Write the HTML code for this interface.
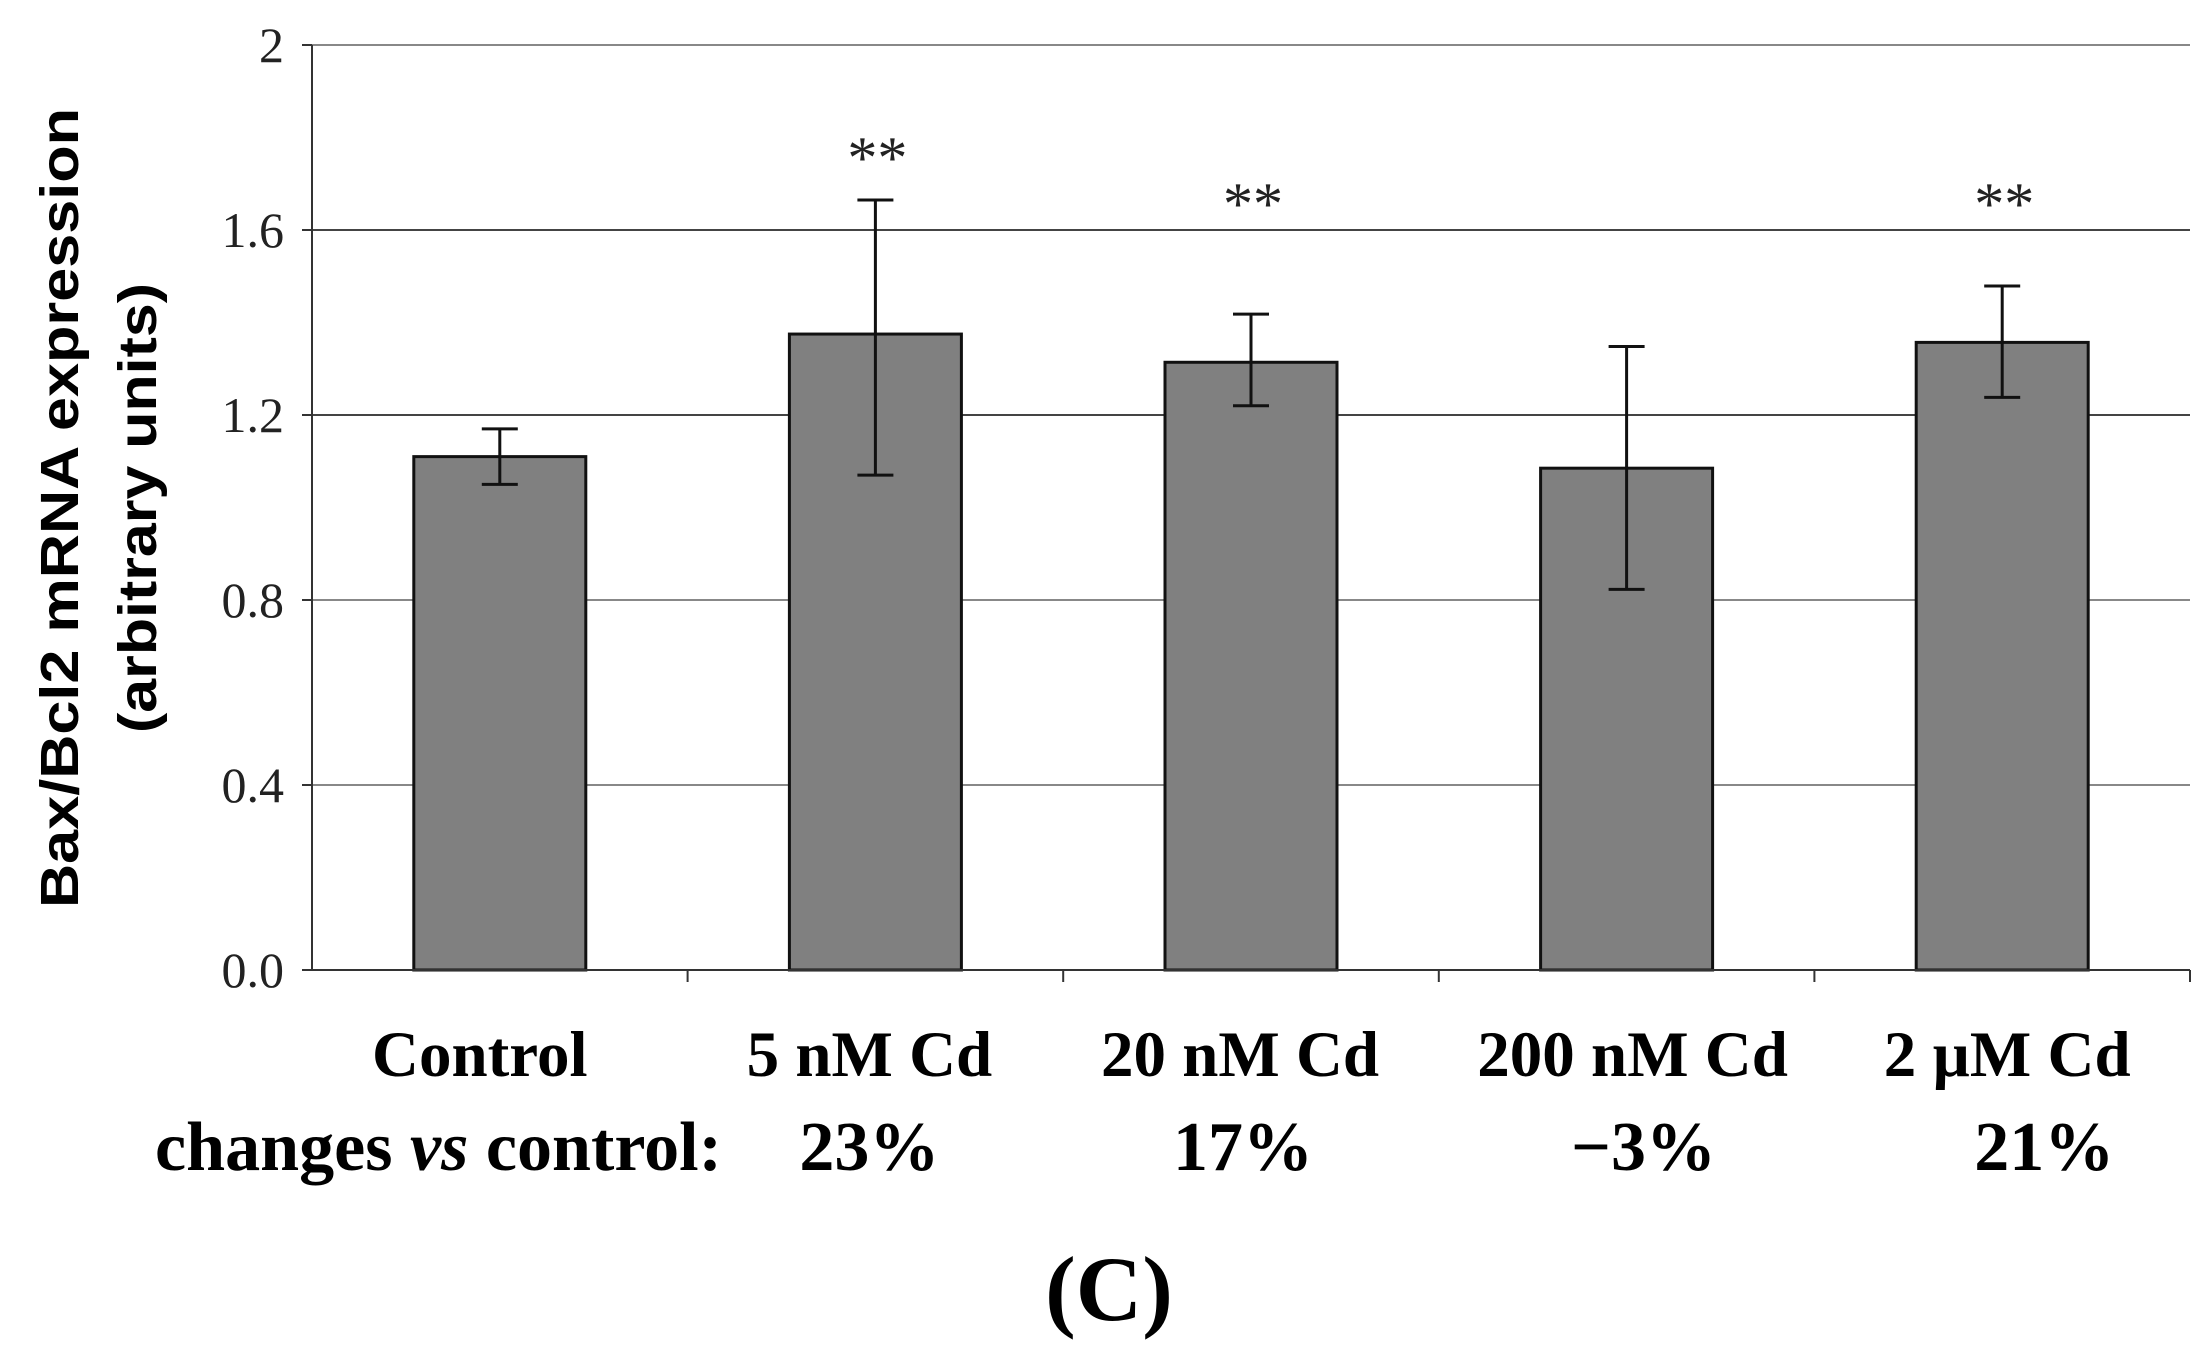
<!DOCTYPE html>
<html><head><meta charset="utf-8"><style>html,body{margin:0;padding:0;background:#fff}svg{display:block}</style></head>
<body>
<svg id="chart" width="2211" height="1369" viewBox="0 0 2211 1369" xmlns="http://www.w3.org/2000/svg">
<g id="grid"></g>
<g id="bars"></g>
<g id="axes"></g>
<g id="labels"></g>
<text transform="translate(78,508) rotate(-90)" text-anchor="middle" font-family="Liberation Sans, sans-serif" font-weight="bold" font-size="54" textLength="800" lengthAdjust="spacingAndGlyphs">Bax/Bcl2 mRNA expression</text>
<text transform="translate(156,508) rotate(-90)" text-anchor="middle" font-family="Liberation Sans, sans-serif" font-weight="bold" font-size="54" textLength="450" lengthAdjust="spacingAndGlyphs">(arbitrary units)</text>
<text x="155" y="1170" font-family="Liberation Serif, serif" font-weight="bold" font-size="70" textLength="567" lengthAdjust="spacingAndGlyphs">changes <tspan font-style="italic">vs</tspan> control:</text>
<text x="1109" y="1320" text-anchor="middle" font-family="Liberation Serif, serif" font-weight="bold" font-size="92">(C)</text>
</svg>
<script>
const categories = ["Control", "5 nM Cd", "20 nM Cd", "200 nM Cd", "2 µM Cd"];
const means = [1.11, 1.375, 1.314, 1.085, 1.357];
const errHigh = [1.17, 1.665, 1.418, 1.348, 1.479];
const errLow = [1.05, 1.07, 1.22, 0.823, 1.238];
const changes = ["", "23%", "17%", "−3%", "21%"];
const stars = ["", "**", "**", "", "**"];
const yTicks = [0, 0.4, 0.8, 1.2, 1.6, 2];
const yTickLabels = ["0.0", "0.4", "0.8", "1.2", "1.6", "2"];

const NS = "http://www.w3.org/2000/svg";
const X0 = 312, X1 = 2190, Y0 = 970, Y1 = 45, YMAX = 2;
const band = (X1 - X0) / categories.length;
const yScale = v => Y0 - (v / YMAX) * (Y0 - Y1);
const xCenter = i => X0 + band * (i + 0.5);
const catNudge = [-20, -6, -11, 6, 5];
const pctNudge = [0, -6, -8, 17, 42];
function mk(tag, attrs, parent) {
  const e = document.createElementNS(NS, tag);
  for (const k in attrs) e.setAttribute(k, attrs[k]);
  parent.appendChild(e);
  return e;
}
const grid = document.getElementById('grid');
const bars = document.getElementById('bars');
const axes = document.getElementById('axes');
const labels = document.getElementById('labels');

yTicks.forEach((t, i) => {
  const y = yScale(t);
  if (t > 0) {
    const g = mk('line', {x1: X0, x2: X1, y1: y, y2: y, stroke: (t === 1.2 || t === 1.6) ? '#444' : '#888', 'stroke-width': 2}, grid);
    
    
  }
  const tk = mk('line', {x1: X0 - 10, x2: X0, y1: y, y2: y, stroke: '#333', 'stroke-width': 2}, axes);
  
  
  const tl = mk('text', {x: 284, y: y + 17, 'text-anchor': 'end', 'font-family': 'Liberation Serif, serif', 'font-size': 50, fill: '#222'}, axes);
  tl.textContent = yTickLabels[i];
  
  
});

const bw = 172;
categories.forEach((c, i) => {
  const cx = xCenter(i);
  const top = yScale(means[i]);
  const r = mk('rect', {x: cx - bw / 2, y: top, width: bw, height: Y0 - top, fill: '#808080', stroke: '#111', 'stroke-width': 3}, bars);
  
  
  const hi = yScale(errHigh[i]), lo = yScale(errLow[i]);
  const eb = mk('path', {d: `M${cx},${hi}V${lo}M${cx-18},${hi}H${cx+18}M${cx-18},${lo}H${cx+18}`, stroke: '#111', 'stroke-width': 3, fill: 'none'}, bars);
  
  
  if (stars[i]) {
    const s = mk('text', {x: cx + 2, y: Math.min(hi - 22, 224), 'text-anchor': 'middle', 'font-family': 'Liberation Serif, serif', 'font-size': 60, fill: '#222'}, labels);
    s.textContent = stars[i];
    
    
  }
  const cl = mk('text', {x: cx + catNudge[i], y: 1076, 'text-anchor': 'middle', 'font-family': 'Liberation Serif, serif', 'font-weight': 'bold', 'font-size': 65}, labels);
  cl.textContent = c;
  
  
  if (changes[i]) {
    const ch = mk('text', {x: cx + pctNudge[i], y: 1170, 'text-anchor': 'middle', 'font-family': 'Liberation Serif, serif', 'font-weight': 'bold', 'font-size': 70}, labels);
    ch.textContent = changes[i];
    
    
  }
  if (i > 0) {
    const xt = X0 + band * i;
    const ct = mk('line', {x1: xt, x2: xt, y1: Y0, y2: Y0 + 12, stroke: '#333', 'stroke-width': 2}, axes);
    
    
  }
});
const xr = mk('line', {x1: X1, x2: X1, y1: Y0, y2: Y0 + 12, stroke: '#333', 'stroke-width': 2}, axes);


const ya = mk('line', {x1: X0, x2: X0, y1: Y1, y2: Y0, stroke: '#333', 'stroke-width': 2}, axes);


const xa = mk('line', {x1: X0, x2: X1, y1: Y0, y2: Y0, stroke: '#333', 'stroke-width': 2}, axes);


</script>
</body></html>
